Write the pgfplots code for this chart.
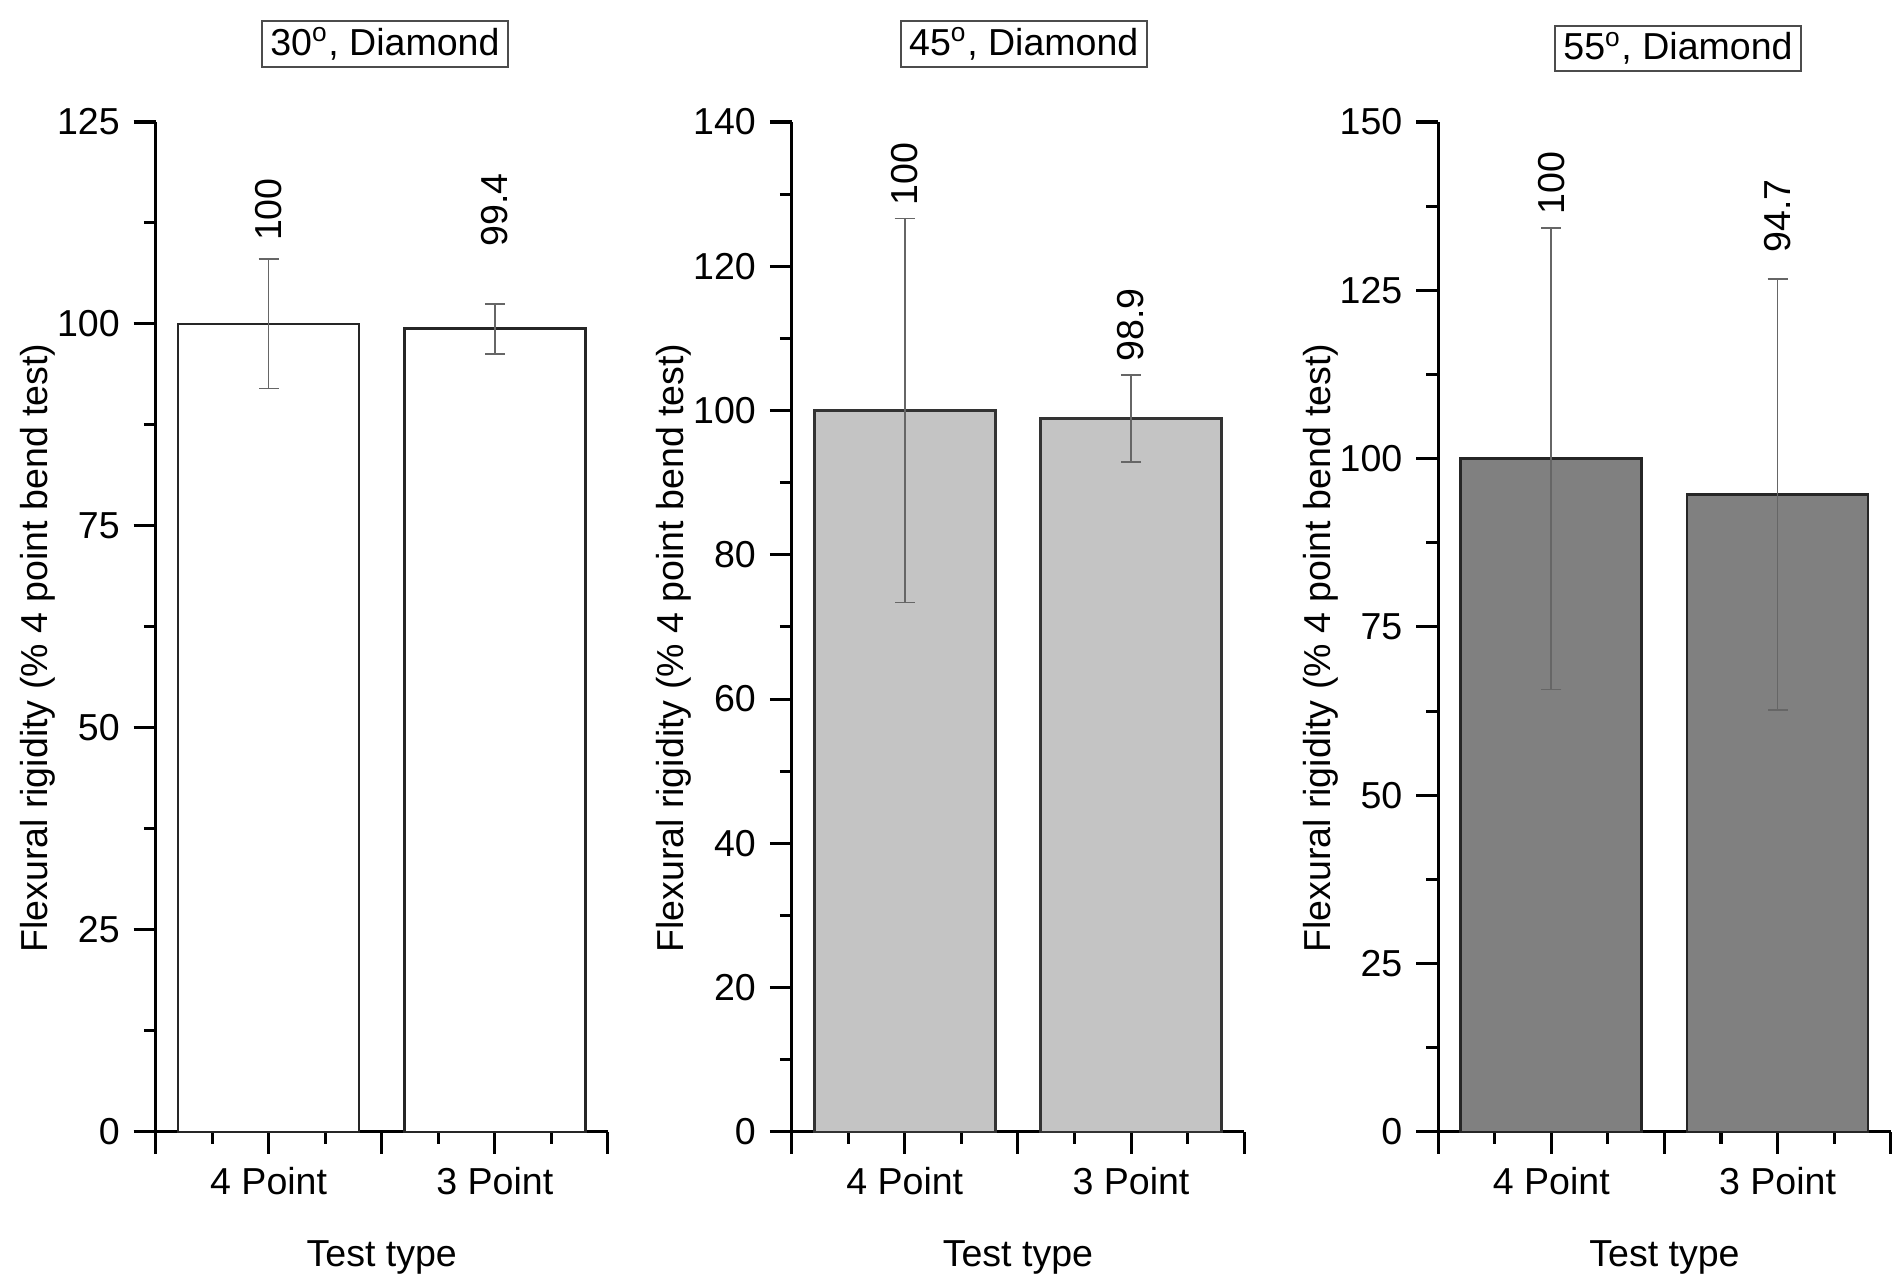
\documentclass[border=0pt]{standalone}
\usepackage{fontspec}
\setmainfont{Liberation Sans}
\usepackage{pgfplots}
\pgfplotsset{compat=1.18}
\definecolor{barlight}{HTML}{C4C4C4}
\definecolor{bardark}{HTML}{808080}
\pgfplotsset{
  panel/.style={
    scale only axis, width=135pt, height=301.3pt,
    anchor=south west, clip=false,
    axis lines*=left, ybar,
    xmin=0.5, xmax=2.5, ymin=0,
    xtick={0.5,1,1.5,2,2.5},
    xticklabels={,4 Point,,3 Point,},
    minor xtick={0.75,1.25,1.75,2.25},
    tick align=outside,
    major tick length=6.5pt, minor tick length=3.5pt,
    axis line style={line width=0.9pt, black},
    every tick/.style={line width=0.9pt, black},
    /pgf/number format/assume math mode=true,
    xlabel={Test type},
    ylabel={Flexural rigidity (\% 4 point bend test)},
    xlabel style={at={(axis description cs:0.5,-0.1242)}, anchor=center},
    ylabel style={at={(axis description cs:-0.26,0.479)}, anchor=center},
    yticklabel style={anchor=east, inner sep=0pt, xshift=-4pt},
    xticklabel style={anchor=center, inner sep=0pt, yshift=-8.3pt},
  },
  bars/.style={
    bar width=0.8, line width=0.8pt,
    error bars/.cd, y dir=both, y explicit,
    error bar style={line width=0.5pt, black!60},
    error mark options={rotate=90, line width=0.5pt, black!60, mark size=3pt},
  },
}
\begin{document}
\begin{tikzpicture}[font=\fontsize{11.2}{13.4}\selectfont]
\path[use as bounding box] (0,0) rectangle (564.5pt,380.5pt);
% Panel 1
\begin{axis}[panel, at={(46.4pt,42.8pt)},
  ymax=125, ytick={0,25,50,75,100,125}, minor ytick={12.5,37.5,62.5,87.5,112.5}]
\addplot[fill=white, draw=black!85, bars] coordinates {(1,100) +- (0,8.0) (2,99.4) +- (0,3.1)};
\node[rotate=90, anchor=west, inner sep=0pt] at (axis cs:1,110.2) {100};
\node[rotate=90, anchor=west, inner sep=0pt] at (axis cs:2,109.5) {99.4};
\node[draw=black!70, line width=0.6pt, inner xsep=2.5pt, inner ysep=2pt] at (axis description cs:0.507,1.0773) {30\textsuperscript{o}, Diamond};
\end{axis}
% Panel 2
\begin{axis}[panel, at={(236.2pt,42.8pt)},
  ymax=140, ytick={0,20,40,60,80,100,120,140}, minor ytick={10,30,50,70,90,110,130}]
\addplot[fill=barlight, draw=black!80, bars] coordinates {(1,100) +- (0,26.6) (2,98.9) +- (0,6.0)};
\node[rotate=90, anchor=west, inner sep=0pt] at (axis cs:1,128.4) {100};
\node[rotate=90, anchor=west, inner sep=0pt] at (axis cs:2,106.7) {98.9};
\node[draw=black!70, line width=0.6pt, inner xsep=2.5pt, inner ysep=2pt] at (axis description cs:0.513,1.0773) {45\textsuperscript{o}, Diamond};
\end{axis}
% Panel 3
\begin{axis}[panel, at={(429.1pt,42.8pt)},
  ymax=150, ytick={0,25,50,75,100,125,150}, minor ytick={12.5,37.5,62.5,87.5,112.5,137.5}]
\addplot[fill=bardark, draw=black!85, bars] coordinates {(1,100) +- (0,34.3) (2,94.7) +- (0,32.0)};
\node[rotate=90, anchor=west, inner sep=0pt] at (axis cs:1,136.2) {100};
\node[rotate=90, anchor=west, inner sep=0pt] at (axis cs:2,130.5) {94.7};
\node[draw=black!70, line width=0.6pt, inner xsep=2.5pt, inner ysep=2pt] at (axis description cs:0.53,1.0727) {55\textsuperscript{o}, Diamond};
\end{axis}
\end{tikzpicture}
\end{document}
